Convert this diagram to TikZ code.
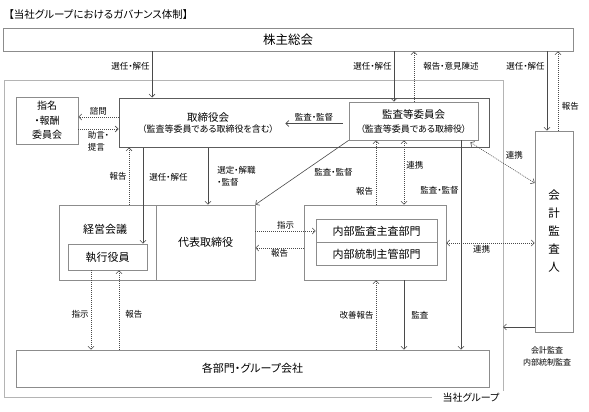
\documentclass[tikz,border=0pt]{standalone}
\usepackage{fontspec}
\setmainfont{Noto Sans CJK JP}[RawFeature=+palt]
\usepackage{xcolor}
\usetikzlibrary{calc,shapes.multipart,arrows.meta}

\definecolor{boxgray}{HTML}{8C8C8C}
\definecolor{linegray}{HTML}{4A4A4A}
\definecolor{grpgray}{HTML}{B4B4B4}

\begin{document}
\begin{tikzpicture}[x=1pt,y=-1pt, >={Straight Barb[length=3pt,width=6pt]},
    box/.style={draw=boxgray, line width=0.7pt, inner sep=0pt, align=center},
    arr/.style={->, draw=linegray, line width=0.6pt},
    darr/.style={->, draw=linegray, line width=0.6pt, dash pattern=on 1pt off 1pt},
    lbl/.style={font=\fontsize{8.5}{12.5}\selectfont, inner sep=2pt},
    big/.style={font=\fontsize{11}{13}\selectfont}]

  \useasboundingbox (0,0) rectangle (589,412);

  \node[anchor=west, font=\fontsize{10.5}{12}\selectfont] (title) at (5,15) {【当社グループにおけるガバナンス体制】};
  \node[box, minimum width=570pt, minimum height=23pt, font=\fontsize{12.5}{14}\selectfont] (soukai) at (288,39.5) {株主総会};

  % 当社グループ
  \draw[grpgray, line width=1pt] (432,397) -- (4,397) -- (4,81) -- (503,81) -- (503,391);
  \node[font=\fontsize{10}{12}\selectfont] (grplbl) at (471,398) {当社グループ};

  \node[box, draw=linegray!90, line width=1pt, minimum width=370pt, minimum height=49pt] (board) at (304,122.5) {};
  \node[align=center, font=\fontsize{9}{11}\selectfont] (boardtxt) at (208,123.5) {{\fontsize{10.5}{12}\selectfont 取締役会}\\（監査等委員である取締役を含む）};
  \node[box, minimum width=129pt, minimum height=38pt, font=\fontsize{9}{14}\selectfont] (audit) at (413.5,121) {{\fontsize{10.5}{12}\selectfont 監査等委員会}\\（監査等委員である取締役）};
  \node[box, minimum width=62pt, minimum height=47pt, font=\fontsize{10}{14.5}\selectfont] (nomi) at (47,120.5) {指名\\・報酬\\委員会};
  \node[box, minimum width=38pt, minimum height=201pt, font=\fontsize{11.5}{18}\selectfont] (kaikei) at (554,231.5) {会\\計\\監\\査\\人};

  \node[box, minimum width=97pt, minimum height=75pt] (keiei) at (107.5,242.5) {};
  \node[big] (keieitxt) at (105,229) {経営会議};
  \node[box, big, minimum width=99pt, minimum height=75pt] (daihyo) at (205.5,242.5) {代表取締役};
  \node[box, big, minimum width=79pt, minimum height=26pt] (shikko) at (107.5,257) {執行役員};

  \node[box, minimum width=142pt, minimum height=75pt] (naibu) at (375,242.5) {};
  \node[box, big, rectangle split, rectangle split parts=2, text width=109pt,
    inner xsep=6pt, inner ysep=6pt] (bumon) at (376.5,242.5) {内部監査主査部門\nodepart{two}内部統制主管部門};

  \node[box, big, minimum width=473pt, minimum height=37pt] (kakubu) at (252.5,368.5) {各部門・グループ会社};
  \node[lbl, align=center, font=\fontsize{8}{12}\selectfont] (kaikeilbl) at (547,356) {会計監査\\内部統制監査};

  % 株主総会
  \draw[arr] (soukai.south -| 152,0) -- (board.north -| 152,0) node[lbl,pos=0.32,left] {選任・解任};
  \draw[arr] (soukai.south -| 394,0) -- (audit.north -| 394,0) node[lbl,pos=0.29,left] {選任・解任};
  \draw[darr] (audit.north -| 414,0) -- (soukai.south -| 414,0) node[lbl,pos=0.71,right=7pt] {報告・意見陳述};
  \draw[arr] (soukai.south -| 547,0) -- (kaikei.north -| 547,0) node[lbl,pos=0.19,left] {選任・解任};
  \draw[darr] (kaikei.north -| 558,0) -- (soukai.south -| 558,0) node[lbl,pos=0.31,right=1.5pt] {報告};

  % 取締役会の中
  \draw[darr] (board.west |- 0,117) -- (nomi.east |- 0,117) node[lbl,midway,above] {諮問};
  \draw[darr] (nomi.east |- 0,129) -- (board.west |- 0,129) node[lbl,midway,below,align=left] {助言・\\提言};
  \draw[arr] ($(audit.west |- boardtxt.east)+(-6,0)$) -- ($(boardtxt.east)+(8,0)$) node[lbl,midway,above] {監査・監督};

  % 執行側へ
  \draw[darr] (keiei.north -| 129,0) -- (board.south -| 129,0) node[lbl,midway,left] {報告};
  \draw[arr] (board.south -| 143,0) -- (shikko.north -| 143,0) node[lbl,pos=0.31,right=4pt] {選任・解任};
  \draw[arr] (board.south -| 208,0) -- (daihyo.north -| 208,0) node[lbl,midway,right=7pt,align=left] {選定・解職\\・監督};
  \draw[arr] (audit.south west) -- (daihyo.north east) node[lbl,midway,right=10pt] {監査・監督};

  % 監査等委員会
  \draw[darr] (naibu.north -| 376,0) -- (audit.south -| 376,0) node[lbl,pos=0.2,left=0.5pt] {報告};
  \draw[darr,<->] (audit.south -| 404,0) -- (naibu.north -| 404,0) node[lbl,pos=0.38,right] {連携};
  \draw[arr] (audit.south -| 461,0) -- (kakubu.north -| 461,0) node[lbl,pos=0.24,left] {監査・監督};
  \draw[darr,<->] ($(audit.south east)+(-8,2)$) -- (kaikei.west |- 0,183) node[lbl,midway,above right=1pt] {連携};

  \draw[darr] (daihyo.east |- 0,231) -- (bumon.west |- 0,231) node[lbl,midway,above] {指示};
  \draw[darr] (naibu.west |- 0,248) -- (daihyo.east |- 0,248) node[lbl,midway,below=-1pt] {報告};
  \draw[darr,<->] (naibu.east |- 0,243) -- (kaikei.west |- 0,243) node[lbl,pos=0.4,below] {連携};

  % 各部門・グループ会社
  \draw[darr] (kakubu.north -| 376,0) -- (naibu.south -| 376,0) node[lbl,midway,left=0pt] {改善報告};
  \draw[arr] (naibu.south -| 404,0) -- (kakubu.north -| 404,0) node[lbl,midway,right=5pt] {監査};
  \draw[darr] (shikko.south -| 91,0) -- (kakubu.north -| 91,0) node[lbl,pos=0.56,left] {指示};
  \draw[darr] (kakubu.north -| 119,0) -- (shikko.south -| 119,0) node[lbl,pos=0.44,right=4pt] {報告};

  \coordinate (grpedge) at (503,327);
  \draw[arr] (kaikei.west |- grpedge) -- (grpedge);
\end{tikzpicture}
\end{document}
